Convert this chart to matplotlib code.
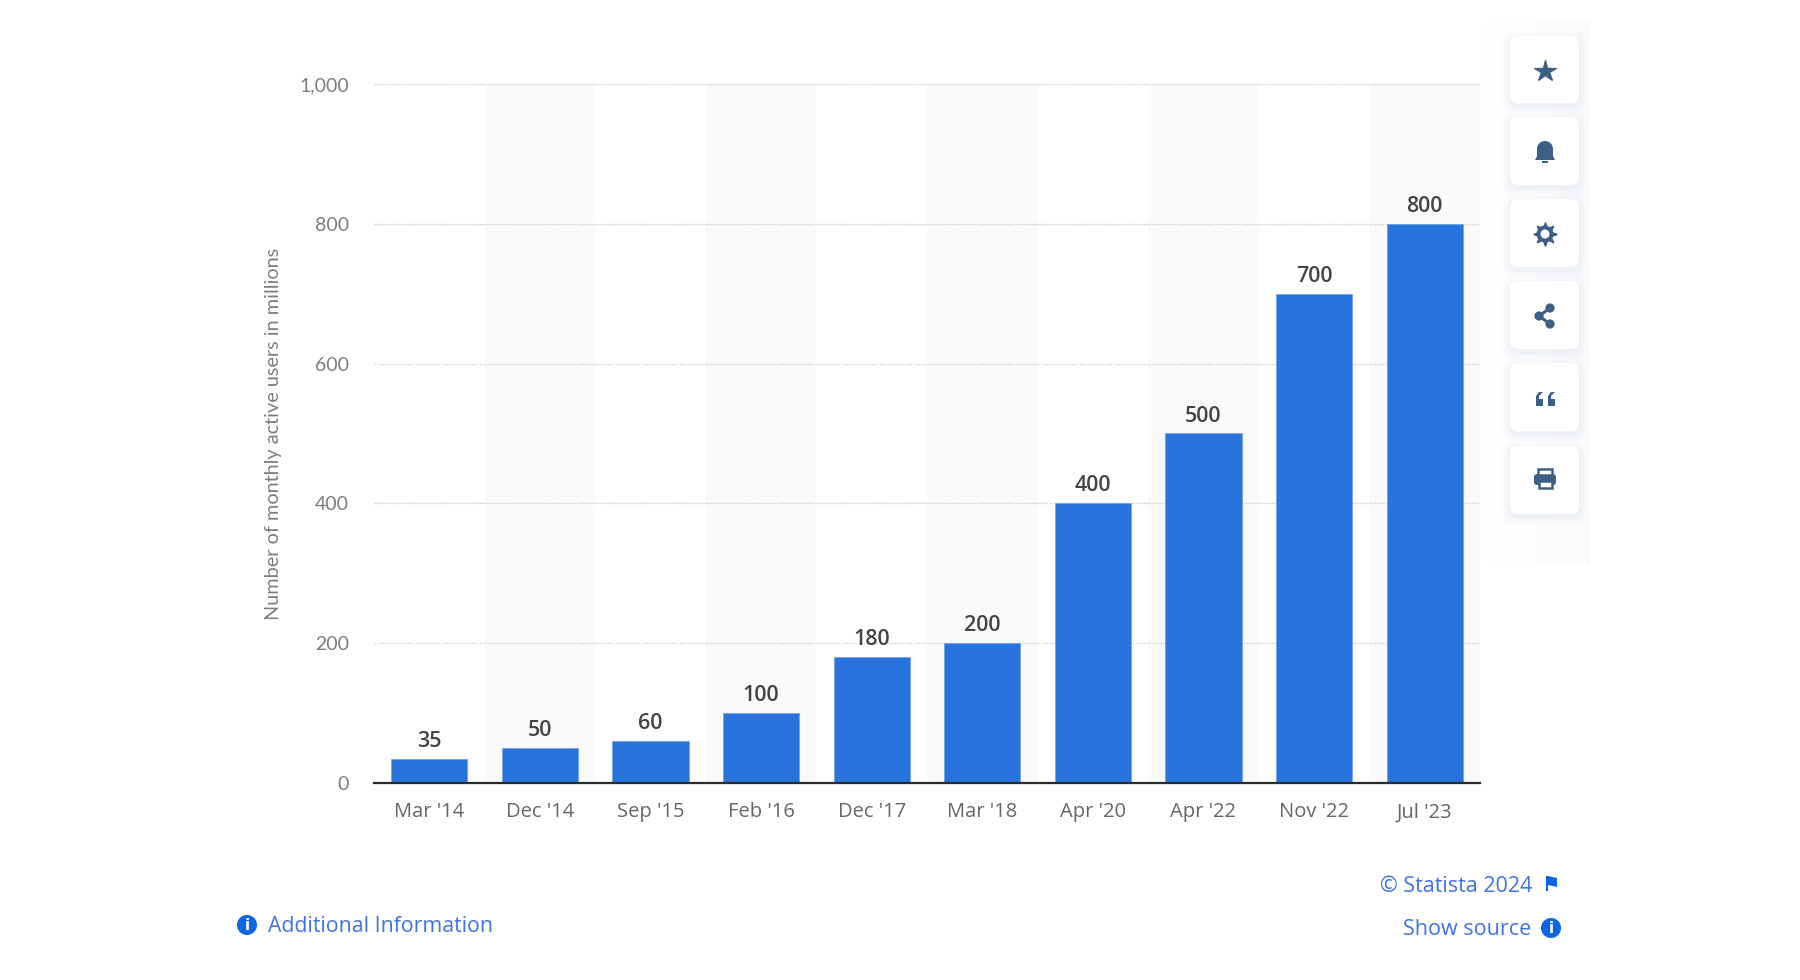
import numpy as np
from matplotlib import pyplot as plt
from matplotlib.patches import Circle, FancyBboxPatch, Polygon, Rectangle

W, H = 1800, 980

dates = ["Mar '14", "Dec '14", "Sep '15", "Feb '16", "Dec '17",
         "Mar '18", "Apr '20", "Apr '22", "Nov '22", "Jul '23"]
users = [35, 50, 60, 100, 180, 200, 400, 500, 700, 800]
y_ticks = [0, 200, 400, 600, 800, 1000]
y_labels = ["0", "200", "400", "600", "800", "1,000"]

BAR = "#2873dc"
ICON = "#3d5f85"
LINK = "#3f73e6"
BLUE = "#0b66e4"
GREY = "#7d7d7d"


def card(ui, top, bottom):
    """White rounded button with a soft shadow"""
    for grow, alpha in [(8, 0.008), (6, 0.012), (4, 0.016), (2, 0.022)]:
        ui.add_patch(FancyBboxPatch((1510 - grow, top + 3 - grow), 69 + 2 * grow, bottom - top + 2 * grow,
                                    boxstyle="round,pad=0,rounding_size=10", fc="#3d5f85", ec="none", alpha=alpha))
    ui.add_patch(FancyBboxPatch((1510, top), 69, bottom - top,
                                boxstyle="round,pad=0,rounding_size=8", fc="white", ec="none"))


def info_icon(ui, x, y):
    ui.add_patch(Circle((x, y), 10, fc=BLUE, ec="none"))
    ui.text(x, y + 0.5, "i", color="white", fontsize=11, fontweight="bold", family="DejaVu Sans",
            ha="center", va="center")


def draw_icons(ui):
    cx = 1545
    # star
    ui.plot([cx], [71], marker="*", ms=16, color=ICON, mec=ICON, mew=1)
    # bell
    cy = 152
    ui.add_patch(Circle((cx, cy - 3), 8, fc=ICON, ec="none"))
    ui.add_patch(Polygon([(cx - 8, cy - 3), (cx + 8, cy - 3), (cx + 8, cy + 4), (cx + 10, cy + 8), (cx - 10, cy + 8),
                          (cx - 8, cy + 4)], fc=ICON, ec="none"))
    ui.add_patch(Rectangle((cx - 3, cy + 9), 6, 2, fc=ICON, ec="none"))
    # gear, the teeth stay under the ring and its white hole
    cy = 234
    ui.plot([cx], [cy], marker=(8, 1, 0), ms=17, color=ICON, mec=ICON, zorder=2)
    ui.add_patch(Circle((cx, cy), 8.5, fc=ICON, ec="none", zorder=3))
    ui.add_patch(Circle((cx, cy), 4.5, fc="white", ec="none", zorder=4))
    # share
    cy = 316
    pts = [(cx + 5, cy - 8), (cx - 6, cy), (cx + 5, cy + 8)]
    ui.plot([p[0] for p in pts], [p[1] for p in pts], color=ICON, lw=2.2)
    for p in pts:
        ui.add_patch(Circle(p, 4.6, fc=ICON, ec="none"))
    # quote marks
    cy = 399
    for qx in (cx - 9, cx + 3):
        ui.add_patch(Rectangle((qx, cy), 7, 7, fc=ICON, ec="none"))
        ui.add_patch(Polygon([(qx, cy), (qx, cy - 3), (qx + 3, cy - 7), (qx + 7, cy - 7), (qx + 3, cy - 3),
                              (qx + 3, cy)], fc=ICON, ec="none"))
    # printer
    cy = 479
    ui.add_patch(FancyBboxPatch((cx - 11, cy - 5), 22, 11, boxstyle="round,pad=0,rounding_size=3", fc=ICON, ec="none"))
    ui.add_patch(Rectangle((cx - 7, cy - 10), 14, 6, fc="white", ec=ICON, lw=1.8))
    ui.add_patch(Rectangle((cx - 6.5, cy + 2), 13, 7, fc="white", ec=ICON, lw=1.8))
    # flag
    ui.add_patch(Rectangle((1546, 876), 2, 15, fc=BLUE, ec="none"))
    ui.add_patch(Polygon([(1548, 876), (1557, 878), (1557, 887), (1548, 885)], fc=BLUE, ec="none"))
    info_icon(ui, 1551, 928)
    info_icon(ui, 247, 925)


def main():
    fig = plt.figure(figsize=(W / 100, H / 100), dpi=100, facecolor="white")

    # page layer for the side panel, buttons and footer links
    ui = fig.add_axes([0, 0, 1, 1], zorder=2)
    ui.axis("off")
    ui.patch.set_alpha(0)

    fade = np.zeros((1, 60, 4))
    fade[..., :3] = [0.24, 0.37, 0.52]
    fade[..., 3] = np.linspace(0, 0.028, 60)
    ui.imshow(fade, extent=(1468, 1590, 565, 22), aspect="auto", zorder=0)
    ui.set_xlim(0, W)
    ui.set_ylim(H, 0)

    for top, bottom in [(36, 103), (117, 185), (199, 267), (281, 349), (363, 431), (446, 514)]:
        card(ui, top, bottom)
    draw_icons(ui)

    ui.text(1532, 886, "© Statista 2024", color=LINK, fontsize=15.5, family="Open Sans", ha="right", va="center")
    ui.text(1531, 929, "Show source", color=LINK, fontsize=15.5, family="Open Sans", ha="right", va="center")
    ui.text(268, 926, "Additional Information", color=LINK, fontsize=15.3, family="Open Sans", ha="left", va="center")

    # chart
    ax = fig.add_axes([374 / W, 1 - 783 / H, (1480 - 374) / W, (783 - 84) / H], zorder=1)
    x = np.arange(len(dates))
    for i in x[1::2]:
        ax.axvspan(i - 0.5, i + 0.5, color="#fafafa", lw=0, zorder=0)
    ax.bar(x, users, width=0.69, color=BAR, edgecolor="#6ba0e8", linewidth=0.5, zorder=3)
    for i, v in zip(x, users):
        ax.annotate(str(v), (i, v), xytext=(0, 5), textcoords="offset points", ha="center", va="bottom",
                    fontsize=15.5, fontweight="semibold", family="Open Sans", color="#444444", zorder=4)

    ax.set_xlim(-0.5, len(dates) - 0.5)
    ax.set_ylim(0, 1000)
    ax.set_yticks(y_ticks, y_labels, fontsize=14, family="Lato", color=GREY)
    ax.set_xticks(x, dates, fontsize=14.5, family="Open Sans", color="#666666")
    ax.tick_params(length=0)
    ax.tick_params(axis="x", pad=14)
    ax.tick_params(axis="y", pad=18)
    ax.grid(axis="y", color="#cfcfcf", lw=1, ls=(0, (1, 1)), zorder=1)
    for side in ["top", "right", "left"]:
        ax.spines[side].set_visible(False)
    ax.spines["bottom"].set_color("#2b2b2b")
    ax.spines["bottom"].set_linewidth(1.6)
    ax.spines["bottom"].set_zorder(5)
    ax.patch.set_alpha(0)

    fig.text(274 / W, 1 - 434 / H, "Number of monthly active users in millions", rotation=90, fontsize=14.3,
             family="Lato", color=GREY, ha="center", va="center")

    fig.savefig("out.png", dpi=100)


if __name__ == "__main__":
    main()
